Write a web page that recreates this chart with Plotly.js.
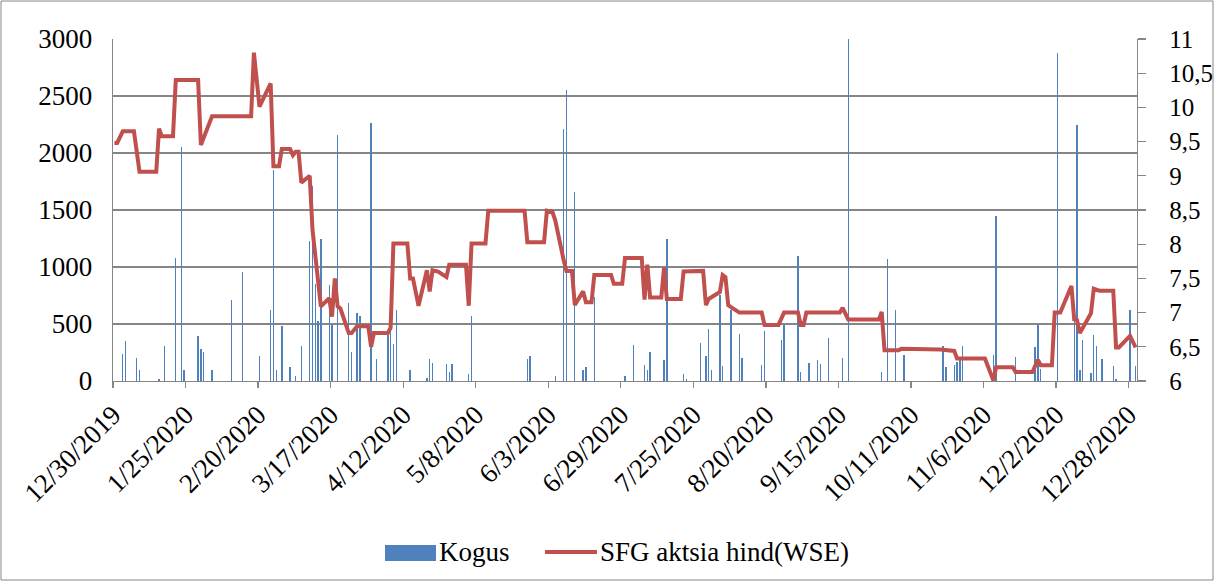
<!DOCTYPE html>
<html>
<head>
<meta charset="utf-8">
<script src="https://cdn.plot.ly/plotly-3.0.1.min.js"></script>
<style>
html,body{margin:0;padding:0;background:#fff;}
#chart{width:1217px;height:583px;}
</style>
</head>
<body>
<div id="chart"></div>
<script>
// ---- data ----
const priceDates = ['2019-12-30','2019-12-31','2020-01-02','2020-01-06','2020-01-08','2020-01-14','2020-01-15','2020-01-16','2020-01-20','2020-01-21','2020-01-29','2020-01-30','2020-02-03','2020-02-17','2020-02-18','2020-02-20','2020-02-24','2020-02-25','2020-02-27','2020-02-28','2020-03-02','2020-03-03','2020-03-04','2020-03-05','2020-03-06','2020-03-09','2020-03-10','2020-03-13','2020-03-16','2020-03-17','2020-03-18','2020-03-19','2020-03-20','2020-03-23','2020-03-24','2020-03-26','2020-03-30','2020-03-31','2020-04-01','2020-04-06','2020-04-07','2020-04-08','2020-04-09','2020-04-13','2020-04-14','2020-04-15','2020-04-17','2020-04-20','2020-04-21','2020-04-22','2020-04-24','2020-04-27','2020-04-28','2020-05-04','2020-05-05','2020-05-06','2020-05-11','2020-05-12','2020-05-25','2020-05-26','2020-06-01','2020-06-02','2020-06-04','2020-06-05','2020-06-08','2020-06-09','2020-06-11','2020-06-12','2020-06-15','2020-06-16','2020-06-18','2020-06-19','2020-06-25','2020-06-26','2020-06-29','2020-06-30','2020-07-06','2020-07-07','2020-07-08','2020-07-09','2020-07-13','2020-07-14','2020-07-15','2020-07-20','2020-07-21','2020-07-28','2020-07-29','2020-07-30','2020-08-03','2020-08-04','2020-08-05','2020-08-06','2020-08-07','2020-08-10','2020-08-18','2020-08-19','2020-08-24','2020-08-26','2020-08-31','2020-09-01','2020-09-02','2020-09-03','2020-09-15','2020-09-16','2020-09-18','2020-09-29','2020-09-30','2020-10-01','2020-10-06','2020-10-07','2020-10-21','2020-10-26','2020-10-27','2020-11-05','2020-11-06','2020-11-09','2020-11-10','2020-11-16','2020-11-17','2020-11-23','2020-11-25','2020-11-26','2020-11-30','2020-12-01','2020-12-03','2020-12-07','2020-12-08','2020-12-09','2020-12-10','2020-12-14','2020-12-15','2020-12-17','2020-12-22','2020-12-23','2020-12-24','2020-12-28','2020-12-30'];
const priceValues = [9.48,9.48,9.65,9.65,9.06,9.06,9.69,9.58,9.58,10.40,10.40,9.45,9.87,9.87,10.80,10.01,10.35,9.14,9.14,9.39,9.39,9.30,9.35,9.35,8.90,9.00,8.21,7.09,7.21,6.94,7.50,7.09,7.06,6.70,6.70,6.80,6.80,6.50,6.70,6.70,6.78,8.01,8.01,8.01,7.50,7.50,7.10,7.62,7.31,7.62,7.60,7.52,7.70,7.70,7.10,8.01,8.01,8.49,8.49,8.03,8.03,8.49,8.47,8.35,7.77,7.61,7.61,7.11,7.31,7.15,7.15,7.55,7.55,7.42,7.42,7.80,7.80,7.19,7.70,7.22,7.22,7.66,7.20,7.20,7.60,7.61,7.11,7.20,7.30,7.55,7.52,7.11,7.08,7.00,7.00,6.82,6.82,7.00,7.00,6.82,6.82,7.00,7.00,7.07,6.90,6.90,7.01,6.45,6.45,6.47,6.46,6.44,6.33,6.33,6.33,6.01,6.20,6.20,6.13,6.13,6.31,6.23,6.23,7.00,7.00,7.39,6.90,6.89,6.70,6.99,7.35,7.32,7.32,6.49,6.49,6.66,6.49];

const volumeDates = ['2020-01-02','2020-01-03','2020-01-07','2020-01-08','2020-01-15','2020-01-17','2020-01-21','2020-01-23','2020-01-24','2020-01-29','2020-01-30','2020-01-31','2020-02-03','2020-02-10','2020-02-14','2020-02-20','2020-02-24','2020-02-25','2020-02-26','2020-02-28','2020-03-02','2020-03-04','2020-03-06','2020-03-09','2020-03-10','2020-03-11','2020-03-12','2020-03-13','2020-03-16','2020-03-17','2020-03-19','2020-03-23','2020-03-24','2020-03-26','2020-03-27','2020-03-31','2020-04-02','2020-04-06','2020-04-07','2020-04-08','2020-04-09','2020-04-14','2020-04-20','2020-04-21','2020-04-22','2020-04-27','2020-04-28','2020-04-29','2020-05-05','2020-05-06','2020-05-26','2020-05-27','2020-06-05','2020-06-08','2020-06-09','2020-06-12','2020-06-15','2020-06-16','2020-06-19','2020-06-30','2020-07-03','2020-07-07','2020-07-08','2020-07-09','2020-07-14','2020-07-15','2020-07-21','2020-07-22','2020-07-27','2020-07-29','2020-07-30','2020-07-31','2020-08-03','2020-08-04','2020-08-07','2020-08-10','2020-08-11','2020-08-18','2020-08-19','2020-08-25','2020-08-26','2020-08-31','2020-09-01','2020-09-04','2020-09-07','2020-09-08','2020-09-11','2020-09-16','2020-09-18','2020-09-30','2020-10-02','2020-10-05','2020-10-08','2020-10-22','2020-10-23','2020-10-26','2020-10-27','2020-10-28','2020-10-29','2020-11-09','2020-11-10','2020-11-17','2020-11-24','2020-11-25','2020-11-26','2020-12-02','2020-12-08','2020-12-09','2020-12-10','2020-12-11','2020-12-14','2020-12-15','2020-12-16','2020-12-18','2020-12-22','2020-12-23','2020-12-28','2020-12-30'];
const volumeValues = [240,351,205,94,18,304,1083,2055,99,395,284,255,99,714,957,217,626,1850,94,483,123,44,304,1229,1712,855,524,1244,840,489,2154,688,255,600,571,2265,196,401,445,328,621,94,29,196,158,152,79,152,64,568,196,217,41,2207,2552,1660,94,123,738,41,313,138,94,255,181,1250,59,20,334,217,460,94,752,129,626,410,205,138,436,357,495,1095,79,158,187,146,380,205,3000,79,1074,626,225,304,123,143,167,181,304,225,1449,211,298,495,108,2874,533,2245,94,363,70,407,304,196,132,15,626,129];

const xTickVals = ['2019-12-30','2020-01-25','2020-02-20','2020-03-17','2020-04-12','2020-05-08','2020-06-03','2020-06-29','2020-07-25','2020-08-20','2020-09-15','2020-10-11','2020-11-06','2020-12-02','2020-12-28'];
const xTickText = ['12/30/2019','1/25/2020','2/20/2020','3/17/2020','4/12/2020','5/8/2020','6/3/2020','6/29/2020','7/25/2020','8/20/2020','9/15/2020','10/11/2020','11/6/2020','12/2/2020','12/28/2020'];
const seriesNames = ['Kogus', 'SFG aktsia hind(WSE)'];

// ---- styling ----
const BLUE = '#4F81BD', RED = '#C0504D', GRAY = '#868686';
const FONT = '"Liberation Serif", "Times New Roman", serif';
const DAY = 86400000;

const traces = [
  {
    type: 'bar', name: seriesNames[0], x: volumeDates, y: volumeValues,
    xperiod: DAY, xperiodalignment: 'middle',
    width: DAY * 0.5,
    marker: {color: BLUE, line: {width: 0}},
    showlegend: false, hoverinfo: 'x+y'
  },
  {
    type: 'scatter', mode: 'lines', name: seriesNames[1], x: priceDates, y: priceValues,
    xperiod: DAY, xperiodalignment: 'middle',
    yaxis: 'y2',
    line: {color: RED, width: 4, shape: 'linear'},
    showlegend: false
  }
];

// plot area in pixels (for the legend / border placement)
const L = 113, R = 80, T = 39, B = 202, W = 1217, H = 583;
const pw = W - L - R, ph = H - T - B;
const px = v => (v - L) / pw;
const py = v => (H - B - v) / ph;
const tf = {family: FONT, size: 27, color: '#000'};
const tfR = {family: FONT, size: 25, color: '#000'};

const layout = {
  width: W, height: H,
  margin: {l: L, r: R, t: T, b: B, pad: 0},
  paper_bgcolor: '#fff', plot_bgcolor: '#fff',
  separators: ', ',
  font: tf,
  showlegend: false,
  bargap: 0,
  xaxis: {
    type: 'date',
    range: ['2019-12-30', '2020-12-31'],
    tickmode: 'array', tickvals: xTickVals, ticktext: xTickText,
    tickangle: -45,
    ticks: 'outside', ticklen: 6, tickwidth: 1.3, tickcolor: GRAY,
    showline: true, linecolor: GRAY, linewidth: 1.3,
    showgrid: false, zeroline: false,
    tickfont: tf
  },
  yaxis: {
    range: [0, 3000], tickmode: 'linear', tick0: 0, dtick: 500,
    showgrid: true, gridcolor: GRAY, gridwidth: 1.3,
    showline: true, linecolor: GRAY, linewidth: 1.3,
    ticks: '', zeroline: false,
    ticklabelstandoff: 14,
    tickfont: tf
  },
  yaxis2: {
    overlaying: 'y', side: 'right',
    range: [6, 11], tickmode: 'linear', tick0: 6, dtick: 0.5,
    showgrid: false, zeroline: false,
    showline: true, linecolor: GRAY, linewidth: 1.3,
    ticks: 'outside', ticklen: 8, tickwidth: 1.3, tickcolor: GRAY,
    ticklabelstandoff: 18,
    tickfont: tfR
  },
  shapes: [
    {type: 'rect', xref: 'paper', yref: 'paper',
     x0: px(1), x1: px(1213), y0: py(580), y1: py(1),
     line: {color: GRAY, width: 1}, fillcolor: 'rgba(0,0,0,0)'},
    {type: 'rect', xref: 'paper', yref: 'paper',
     x0: px(385), x1: px(436), y0: py(561), y1: py(545),
     line: {width: 0}, fillcolor: BLUE},
    {type: 'line', xref: 'paper', yref: 'paper',
     x0: px(545), x1: px(597), y0: py(552), y1: py(552),
     line: {color: RED, width: 4}}
  ],
  annotations: [
    {xref: 'paper', yref: 'paper', x: px(437), y: py(552), xanchor: 'left', yanchor: 'middle',
     text: seriesNames[0], showarrow: false, font: tf},
    {xref: 'paper', yref: 'paper', x: px(598), y: py(552), xanchor: 'left', yanchor: 'middle',
     text: seriesNames[1], showarrow: false, font: tf}
  ]
};

Plotly.newPlot('chart', traces, layout, {displayModeBar: false, staticPlot: true});
</script>
</body>
</html>
